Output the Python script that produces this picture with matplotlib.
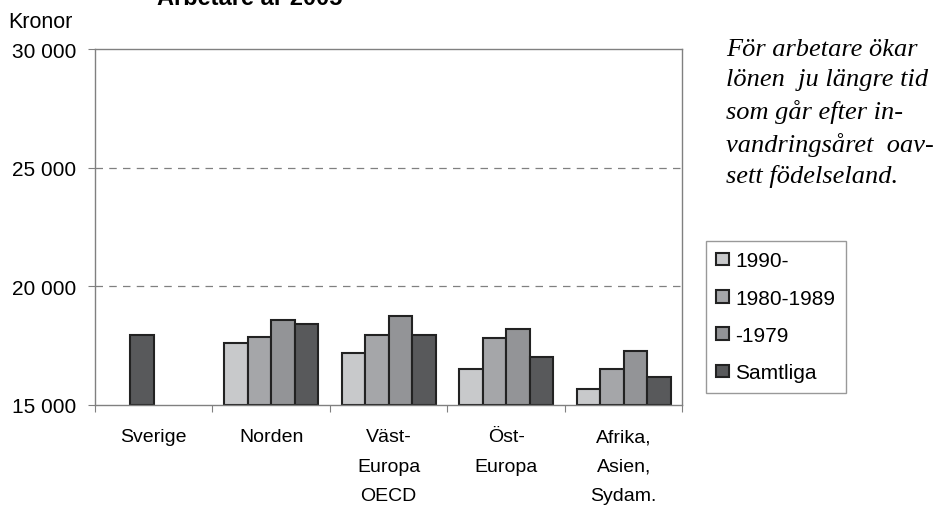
import numpy as np
import matplotlib.pyplot as plt
from matplotlib.patches import Patch

plt.rcParams['font.family'] = ['Liberation Sans', 'DejaVu Sans']

categories = ["Sverige", "Norden", "Väst-\nEuropa\nOECD", "Öst-\nEuropa", "Afrika,\nAsien,\nSydam."]
series = ["1990-", "1980-1989", "-1979", "Samtliga"]
colors = ["#c8c9cb", "#a5a6a9", "#939497", "#58595b"]

v_1990 = [np.nan, 17600, 17200, 16500, 15650]
v_1980 = [np.nan, 17870, 17950, 17800, 16500]
v_1979 = [np.nan, 18570, 18730, 18210, 17270]
v_samtliga = [np.nan, 18390, 17950, 17010, 16170]
sverige = 17950

fig = plt.figure(figsize=(9.4, 5.06), dpi=100)
ax = fig.add_axes([0.101, 0.198, 0.625, 0.703])

x = np.arange(len(categories))
w = 0.2
data = [v_1990, v_1980, v_1979, v_samtliga]
for i, vals in enumerate(data):
    ax.bar(x + (i - 1.5) * w, np.array(vals) - 15000, w, bottom=15000,
           color=colors[i], edgecolor="#222222", linewidth=1.5)
# Sverige only has "Samtliga", drawn in the second slot
ax.bar(x[0] - 0.5 * w, sverige - 15000, w, bottom=15000,
       color=colors[3], edgecolor="#222222", linewidth=1.5)

ax.set_xlim(-0.5, len(categories) - 0.5)
ax.set_ylim(15000, 30000)
ax.set_yticks([15000, 20000, 25000, 30000])
ax.set_yticklabels(["15 000", "20 000", "25 000", "30 000"], fontsize=15)
for yv in [20000, 25000]:
    ax.axhline(yv, color="#808080", linestyle=(0, (6, 5)), linewidth=0.9)

ax.set_xticks(np.arange(len(categories) + 1) - 0.5)
ax.set_xticklabels([])
ax.set_xticks(x, minor=True)
ax.set_xticklabels(categories, minor=True, fontsize=14, linespacing=1.95)
ax.tick_params(axis="x", which="minor", length=0, pad=17)
ax.tick_params(axis="x", which="major", length=5, color="#808080")
ax.tick_params(axis="y", length=5, color="#808080", pad=8.5)
for s in ax.spines.values():
    s.set_color("#808080")
    s.set_linewidth(1.0)

fig.text(8 / 940, 1 - 22 / 506, "Kronor", fontsize=15.5, va="center", ha="left")
fig.text(250 / 940, 1 - 5 / 506, "Arbetare år 2005", fontsize=17, fontweight="bold",
         ha="center", va="baseline")

fig.text(726 / 940, 1 - 39 / 506,
         "För arbetare ökar\nlönen  ju längre tid\nsom går efter in-\nvandringsåret  oav-\nsett födelseland.",
         family=["Liberation Serif"], style="italic", fontsize=19, va="top", ha="left",
         linespacing=1.47)

handles = [Patch(facecolor=c, edgecolor="#222222", linewidth=1.5) for c in colors]
leg = fig.legend(handles, series, loc="upper left",
                 bbox_to_anchor=(706 / 940, 1 - 242 / 506), fontsize=15,
                 handlelength=0.6, handleheight=0.55, labelspacing=0.88,
                 handletextpad=0.3, borderpad=0.5, borderaxespad=0,
                 fancybox=False, frameon=True)
leg.get_frame().set_edgecolor("#808080")
leg.get_frame().set_linewidth(1.0)

fig.savefig("out.png", dpi=100)
